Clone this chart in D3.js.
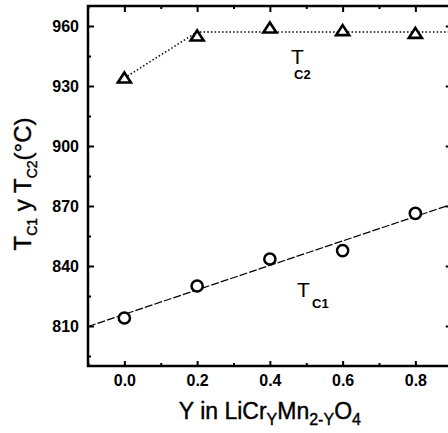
<!DOCTYPE html>
<html>
<head>
<meta charset="utf-8">
<script src="https://cdn.jsdelivr.net/npm/d3@7/dist/d3.min.js"></script>
<style>
  body { margin: 0; background: #fff; }
  svg { display: block; font-family: "Liberation Sans", Arial, sans-serif; }
</style>
</head>
<body>
<div id="chart"></div>
<script>
// data
var yContent = [0.0, 0.2, 0.4, 0.6, 0.8];
var tc1 = [814, 830, 843.5, 847.7, 866.3];
var tc2 = [934, 955, 959, 957.7, 956.3];
var xMajor = [0.0, 0.2, 0.4, 0.6, 0.8];
var xMinor = [-0.1, 0.1, 0.3, 0.5, 0.7, 0.9];
var yMajor = [810, 840, 870, 900, 930, 960];
var yMinor = [795, 825, 855, 885, 915, 945];

var width = 448, height = 433;

var svg = d3.select("#chart")
    .append("svg")
    .attr("width", width)
    .attr("height", height);

svg.append("rect").attr("width", width).attr("height", height).attr("fill", "#fff");

var x = d3.scaleLinear().domain([-0.1, 0.9]).range([88, 451.75]);
var y = d3.scaleLinear().domain([790, 970]).range([366, 6]);

//------------------------- FRAME + TICKS -------------------------\\
function frame(axisFn, scale, ticks, size, tx, ty, labels) {
    var g = svg.append("g")
        .attr("transform", "translate(" + tx + "," + ty + ")")
        .call(axisFn(scale).tickValues(ticks).tickSize(size).tickPadding(labels ? 9 : 0)
            .tickFormat(labels ? labels : ""));
    g.select(".domain").remove();
    g.selectAll(".tick line").attr("stroke", "#000").attr("stroke-width", 2);
    return g;
}

var gb = frame(d3.axisBottom, x, xMajor, -5, 0, 366, d3.format(".1f"));
frame(d3.axisBottom, x, xMinor, -3, 0, 366, null);
frame(d3.axisTop, x, xMajor, -6, 0, 6, null);
frame(d3.axisTop, x, xMinor, -3, 0, 6, null);
var gl = frame(d3.axisLeft, y, yMajor, -6, 88, 0, d3.format("d"));
frame(d3.axisLeft, y, yMinor, -3, 88, 0, null);
frame(d3.axisRight, y, yMajor, -6, 451.75, 0, null);
frame(d3.axisRight, y, yMinor, -3, 451.75, 0, null);

[gb, gl].forEach(function(g) {
    g.selectAll(".tick text")
        .attr("fill", "#000")
        .style("font-family", "'Liberation Sans', Arial, sans-serif")
        .style("font-size", "16px")
        .style("font-weight", "700");
});

svg.append("rect")
    .attr("x", x.range()[0]).attr("y", y.range()[1])
    .attr("width", x.range()[1] - x.range()[0])
    .attr("height", y.range()[0] - y.range()[1])
    .attr("fill", "none")
    .attr("stroke", "#000")
    .attr("stroke-width", 2.5);

//------------------------- TC1 : LINEAR FIT -------------------------\\
var mx = d3.mean(yContent), my = d3.mean(tc1);
var slope = d3.sum(yContent, (v, i) => (v - mx) * (tc1[i] - my)) / d3.sum(yContent, v => (v - mx) * (v - mx));
var icpt = my - slope * mx;
var fit = x.domain().map(v => [v, icpt + slope * v]);

svg.append("path")
    .datum(fit)
    .attr("d", d3.line().x(d => x(d[0])).y(d => y(d[1])))
    .attr("fill", "none")
    .attr("stroke", "#000")
    .attr("stroke-width", 1.2)
    .attr("stroke-dasharray", "8,2");

//------------------------- TC2 : DOTTED GUIDE -------------------------\\
var plateau = d3.mean(tc2.slice(1));
var guide = [[yContent[0], tc2[0]], [yContent[1], plateau], [x.domain()[1], plateau]];
svg.append("path")
    .datum(guide)
    .attr("d", d3.line().x(d => x(d[0])).y(d => y(d[1])))
    .attr("fill", "none")
    .attr("stroke", "#000")
    .attr("stroke-width", 1.5)
    .attr("stroke-dasharray", "1.5,2.2");

//------------------------- MARKERS -------------------------\\
svg.selectAll(".c1")
    .data(yContent)
    .join("circle")
    .attr("cx", d => x(d))
    .attr("cy", (d, i) => y(tc1[i]))
    .attr("r", 5.6)
    .attr("fill", "#fff")
    .attr("stroke", "#000")
    .attr("stroke-width", 2.5);

// open triangle, 13 wide x 10 tall
var triPath = "M0,-5.5L6.5,4.5L-6.5,4.5Z";
svg.selectAll(".c2")
    .data(yContent)
    .join("path")
    .attr("d", triPath)
    .attr("transform", (d, i) => "translate(" + x(d) + "," + y(tc2[i]) + ")")
    .attr("fill", "#fff")
    .attr("stroke", "#000")
    .attr("stroke-linejoin", "miter")
    .attr("stroke-width", 2.6);

//------------------------- LABELS -------------------------\\
function tLabel(px, py, sub, sx, sy) {
    svg.append("text").attr("x", px).attr("y", py)
        .style("font-size", "21px").text("T");
    svg.append("text").attr("x", sx).attr("y", sy)
        .style("font-size", "13px").style("font-weight", "700").text(sub);
}
tLabel(291, 64, "C2", 294, 79);
tLabel(297, 297, "C1", 312, 308);

// x title
var xt = svg.append("text")
    .attr("x", x(0.4)).attr("y", 419)
    .attr("text-anchor", "middle")
    .attr("stroke", "#000").attr("stroke-width", 0.4)
    .style("font-size", "23px");
xt.append("tspan").text("Y in LiCr");
xt.append("tspan").attr("dy", 6).style("font-size", "16px").text("Y");
xt.append("tspan").attr("dy", -6).text("Mn");
xt.append("tspan").attr("dy", 6).style("font-size", "16px").text("2-Y");
xt.append("tspan").attr("dy", -6).text("O");
xt.append("tspan").attr("dy", 6).style("font-size", "16px").text("4");

// y title
var yt = svg.append("text")
    .attr("transform", "translate(31,184) rotate(-90)")
    .attr("text-anchor", "middle")
    .attr("stroke", "#000").attr("stroke-width", 0.4)
    .style("font-size", "24px");
yt.append("tspan").text("T");
yt.append("tspan").attr("dy", 6).style("font-size", "14px").text("C1");
yt.append("tspan").attr("dy", -6).text(" y T");
yt.append("tspan").attr("dy", 6).style("font-size", "14px").text("C2");
yt.append("tspan").attr("dy", -6).text("(°C)");
</script>
</body>
</html>
